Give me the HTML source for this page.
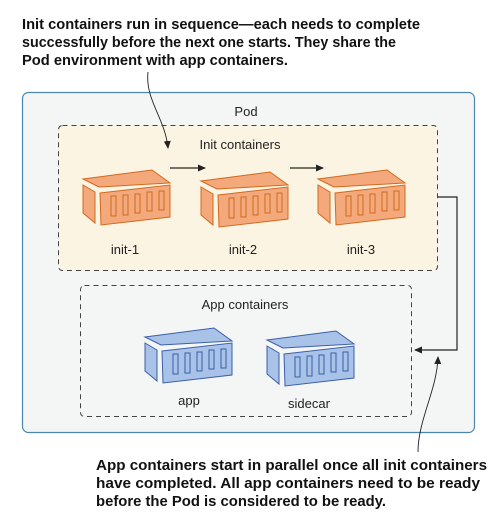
<!DOCTYPE html>
<html><head><style>html,body{margin:0;padding:0;background:#fff}svg{display:block}</style></head>
<body>
<svg width="497" height="521" viewBox="0 0 497 521" xmlns="http://www.w3.org/2000/svg" font-family="Liberation Sans, sans-serif">
<defs>
<marker id="ah" markerWidth="8" markerHeight="8" refX="7" refY="4" orient="auto" markerUnits="userSpaceOnUse"><path d="M0,0.5 L8,4 L0,7.5 z" fill="#222"/></marker>
<g id="co">
<path d="M0,9 L69,0 L87,13 L16,17 z" fill="#f3a97b" stroke="#d2691e" stroke-width="1"/>
<path d="M0,15 L12,22 L12,53 L0,43 z" fill="#f3a97b" stroke="#d2691e" stroke-width="1"/>
<path d="M17,23 L87,15 L87,47 L18,55 z" fill="#f3a97b" stroke="#d2691e" stroke-width="1"/>
<g fill="none" stroke="#d2691e" stroke-width="1"><rect x="28" y="26" width="5" height="20"/><rect x="40" y="25" width="5" height="20"/><rect x="52" y="24" width="5" height="19"/><rect x="64" y="22" width="5" height="19"/><rect x="76" y="21" width="5" height="19"/></g>
</g>
<g id="cb">
<path d="M0,9 L69,0 L87,13 L16,17 z" fill="#a9c2e8" stroke="#3b5fa8" stroke-width="1"/>
<path d="M0,15 L12,22 L12,53 L0,43 z" fill="#a9c2e8" stroke="#3b5fa8" stroke-width="1"/>
<path d="M17,23 L87,15 L87,47 L18,55 z" fill="#a9c2e8" stroke="#3b5fa8" stroke-width="1"/>
<g fill="none" stroke="#3b5fa8" stroke-width="1"><rect x="28" y="26" width="5" height="20"/><rect x="40" y="25" width="5" height="20"/><rect x="52" y="24" width="5" height="19"/><rect x="64" y="22" width="5" height="19"/><rect x="76" y="21" width="5" height="19"/></g>
</g>
</defs>
<g font-weight="bold" font-size="15" fill="#111">
<text x="22" y="29" textLength="398" lengthAdjust="spacingAndGlyphs">Init containers run in sequence—each needs to complete</text>
<text x="22" y="47" textLength="374" lengthAdjust="spacingAndGlyphs">successfully before the next one starts. They share the</text>
<text x="22" y="65" textLength="266" lengthAdjust="spacingAndGlyphs">Pod environment with app containers.</text>
<text x="96" y="470" textLength="391" lengthAdjust="spacingAndGlyphs">App containers start in parallel once all init containers</text>
<text x="96" y="488" textLength="384" lengthAdjust="spacingAndGlyphs">have completed. All app containers need to be ready</text>
<text x="96" y="506" textLength="290" lengthAdjust="spacingAndGlyphs">before the Pod is considered to be ready.</text>
</g>
<rect x="22.5" y="92.5" width="452" height="340" rx="6" fill="#f4f6f6" stroke="#4a86b0" stroke-width="1.2"/>
<text x="246" y="116" font-size="13" text-anchor="middle" fill="#222">Pod</text>
<rect x="58.5" y="125.5" width="379" height="145" rx="4" fill="#fcf4e2" stroke="#444" stroke-dasharray="5,4"/>
<text x="240" y="149" font-size="13" text-anchor="middle" fill="#222">Init containers</text>
<rect x="80.5" y="285.5" width="331" height="131" rx="4" fill="#f4f6f6" stroke="#444" stroke-dasharray="5,4"/>
<text x="245" y="309" font-size="13" text-anchor="middle" fill="#222">App containers</text>
<use href="#co" x="83" y="170"/>
<use href="#co" x="201" y="172"/>
<use href="#co" x="318" y="170"/>
<use href="#cb" x="145" y="328"/>
<use href="#cb" x="267" y="331"/>
<g font-size="13" fill="#222" text-anchor="middle">
<text x="125" y="254">init-1</text><text x="243" y="254">init-2</text><text x="361" y="254">init-3</text>
<text x="189" y="405">app</text><text x="309" y="408">sidecar</text>
</g>
<g stroke="#222" stroke-width="1.2" fill="none">
<line x1="170" y1="168" x2="205" y2="168" marker-end="url(#ah)"/>
<line x1="290" y1="168" x2="323" y2="168" marker-end="url(#ah)"/>
<polyline points="438,197 457,197 457,350 415,350" marker-end="url(#ah)"/>
<path d="M148,72 C145,100 165,118 168,148" stroke-width="0.9" marker-end="url(#ah)"/>
<path d="M418,452 C418,420 437,390 438,357" stroke-width="0.9" marker-end="url(#ah)"/>
</g>
</svg>
</body></html>
